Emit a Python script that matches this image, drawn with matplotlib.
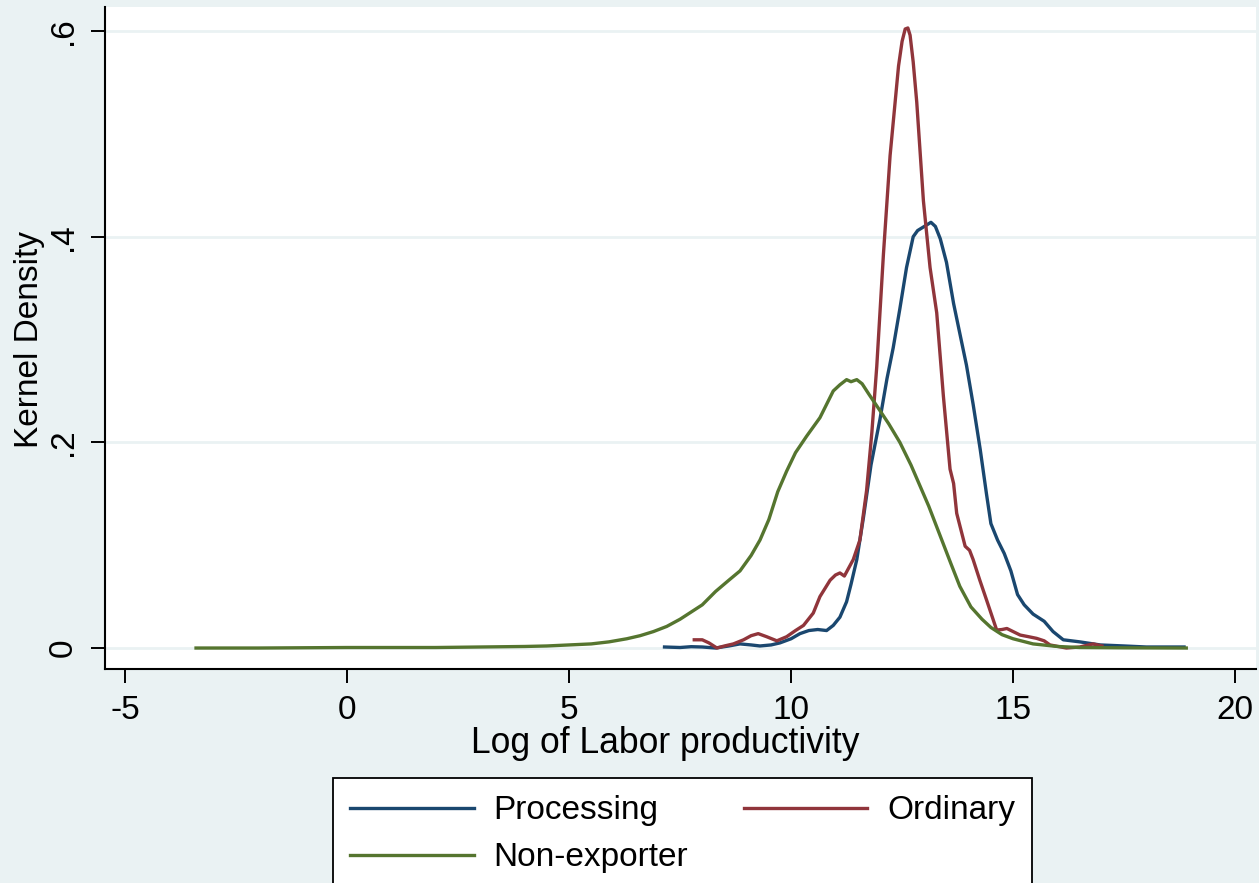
import matplotlib
matplotlib.use("Agg")
import matplotlib.pyplot as plt

plt.rcParams['font.family'] = ['Liberation Sans', 'DejaVu Sans']

# ---- data ----
proc_x = [7.15, 7.5, 7.75, 8.0, 8.3, 8.6, 8.85, 9.1, 9.3, 9.55, 9.75, 10.0, 10.2, 10.4,
          10.6, 10.8, 10.95, 11.1, 11.25, 11.35, 11.48, 11.63, 11.8, 12.0, 12.16, 12.3,
          12.45, 12.6, 12.75, 12.85, 13.0, 13.15, 13.25, 13.36, 13.5, 13.66, 13.8, 13.95,
          14.1, 14.26, 14.4, 14.5, 14.65, 14.8, 14.95, 15.1, 15.25, 15.45, 15.7, 15.9,
          16.13, 16.5, 16.96, 17.5, 18.0, 18.5, 18.85]
proc_y = [0.001, 0.0005, 0.0013, 0.001, 0.0, 0.002, 0.004, 0.003, 0.002, 0.003, 0.005,
          0.009, 0.014, 0.017, 0.018, 0.017, 0.022, 0.030, 0.045, 0.062, 0.086, 0.127,
          0.178, 0.222, 0.262, 0.292, 0.330, 0.370, 0.400, 0.406, 0.410, 0.414, 0.410,
          0.398, 0.375, 0.335, 0.306, 0.275, 0.237, 0.193, 0.150, 0.121, 0.105, 0.092,
          0.075, 0.052, 0.042, 0.033, 0.026, 0.016, 0.008, 0.006, 0.003, 0.002, 0.001,
          0.001, 0.001]

ord_x = [7.82, 8.0, 8.15, 8.33, 8.5, 8.7, 8.93, 9.1, 9.26, 9.45, 9.68, 9.9, 10.1, 10.28,
         10.5, 10.65, 10.88, 11.0, 11.1, 11.2, 11.3, 11.4, 11.55, 11.7, 11.82, 11.93,
         12.08, 12.23, 12.42, 12.5, 12.57, 12.63, 12.68, 12.75, 12.83, 12.98, 13.13,
         13.28, 13.43, 13.58, 13.66, 13.73, 13.92, 14.02, 14.1, 14.25, 14.4, 14.63,
         14.75, 14.86, 15.0, 15.16, 15.35, 15.53, 15.7, 15.83, 16.2, 16.5, 16.8, 17.0]
ord_y = [0.008, 0.008, 0.005, 0.0, 0.002, 0.004, 0.008, 0.012, 0.014, 0.011, 0.007,
         0.011, 0.017, 0.022, 0.034, 0.050, 0.066, 0.071, 0.073, 0.070, 0.078, 0.086,
         0.105, 0.153, 0.210, 0.274, 0.383, 0.479, 0.566, 0.590, 0.602, 0.603, 0.596,
         0.570, 0.531, 0.435, 0.370, 0.326, 0.245, 0.174, 0.160, 0.131, 0.099, 0.095,
         0.086, 0.066, 0.047, 0.0175, 0.018, 0.019, 0.016, 0.0126, 0.011, 0.0094,
         0.007, 0.003, 0.0, 0.001, 0.004, 0.002]

non_x = [-3.4, -2.0, 0.0, 2.0, 3.0, 4.0, 4.5, 5.0, 5.5, 5.9, 6.3, 6.6, 6.9, 7.2, 7.5,
         7.75, 8.0, 8.3, 8.6, 8.85, 9.1, 9.3, 9.5, 9.7, 9.9, 10.1, 10.35, 10.65, 10.95,
         11.1, 11.25, 11.35, 11.48, 11.6, 11.75, 12.0, 12.2, 12.45, 12.7, 12.9, 13.1,
         13.35, 13.6, 13.8, 14.05, 14.3, 14.5, 14.75, 15.0, 15.45, 16.0, 16.5, 17.5, 18.9]
non_y = [0.0, 0.0, 0.0005, 0.0005, 0.001, 0.0015, 0.002, 0.003, 0.004, 0.006, 0.009,
         0.012, 0.016, 0.021, 0.028, 0.035, 0.042, 0.055, 0.066, 0.075, 0.090, 0.105,
         0.125, 0.152, 0.172, 0.190, 0.206, 0.224, 0.250, 0.256, 0.261, 0.259, 0.261,
         0.257, 0.247, 0.231, 0.218, 0.200, 0.178, 0.158, 0.138, 0.110, 0.082, 0.060,
         0.040, 0.028, 0.020, 0.013, 0.009, 0.004, 0.0015, 0.0005, 0.0002, 0.0]

series_labels = ["Processing", "Ordinary", "Non-exporter"]
x_ticks = [-5, 0, 5, 10, 15, 20]
x_tick_labels = ["-5", "0", "5", "10", "15", "20"]
y_ticks = [0, 0.2, 0.4, 0.6]
y_tick_labels = ["0", ".2", ".4", ".6"]

# ---- styling ----
BG = "#EAF2F3"
NAVY = "#1A476F"
MAROON = "#90353B"
GREEN = "#55752F"
FS = 24

fig = plt.figure(figsize=(12.59, 8.83), dpi=100, facecolor=BG)
ax = fig.add_axes([105 / 1259, 214 / 883, 1151 / 1259, 662 / 883])
ax.set_facecolor("white")

l1, = ax.plot(proc_x, proc_y, color=NAVY, lw=2.4, label=series_labels[0], zorder=3)
l2, = ax.plot(ord_x, ord_y, color=MAROON, lw=2.4, label=series_labels[1], zorder=3)
l3, = ax.plot(non_x, non_y, color=GREEN, lw=2.4, label=series_labels[2], zorder=4)

ax.set_xlim(-5.45, 20.47)
ax.set_ylim(-0.0204, 0.6234)

ax.set_xticks(x_ticks)
ax.set_xticklabels(x_tick_labels, fontsize=FS)
ax.set_yticks(y_ticks)
ax.set_yticklabels(y_tick_labels, fontsize=FS, rotation=90, va="center")

ax.tick_params(axis="both", length=10, width=1.4, color="black", pad=9)
ax.grid(axis="y", color=BG, lw=2.0, zorder=0)
ax.set_axisbelow(True)

for s in ["top", "right"]:
    ax.spines[s].set_visible(False)
for s in ["left", "bottom"]:
    ax.spines[s].set_linewidth(1.5)
    ax.spines[s].set_color("black")

ax.set_xlabel("Log of Labor productivity", fontsize=25.6)
ax.xaxis.set_label_coords(0.487, -0.086)
ax.set_ylabel("Kernel Density", fontsize=FS)
ax.yaxis.set_label_coords(-0.052, 0.498)

# row-wise order: Processing, Ordinary / Non-exporter (legend fills column-wise)
leg = fig.legend(handles=[l1, l3, l2],
                 labels=[series_labels[0], series_labels[2], series_labels[1]],
                 ncol=2, loc="upper left",
                 bbox_to_anchor=(333 / 1259, 1 - 778 / 883),
                 fontsize=FS, frameon=True, fancybox=False, edgecolor="black",
                 facecolor="white", framealpha=1, handlelength=3.7,
                 handletextpad=0.6, columnspacing=1.66, labelspacing=0.48,
                 borderpad=0.52, borderaxespad=0)
leg.get_frame().set_linewidth(1.3)

fig.savefig("out.png", dpi=100, facecolor=BG)
